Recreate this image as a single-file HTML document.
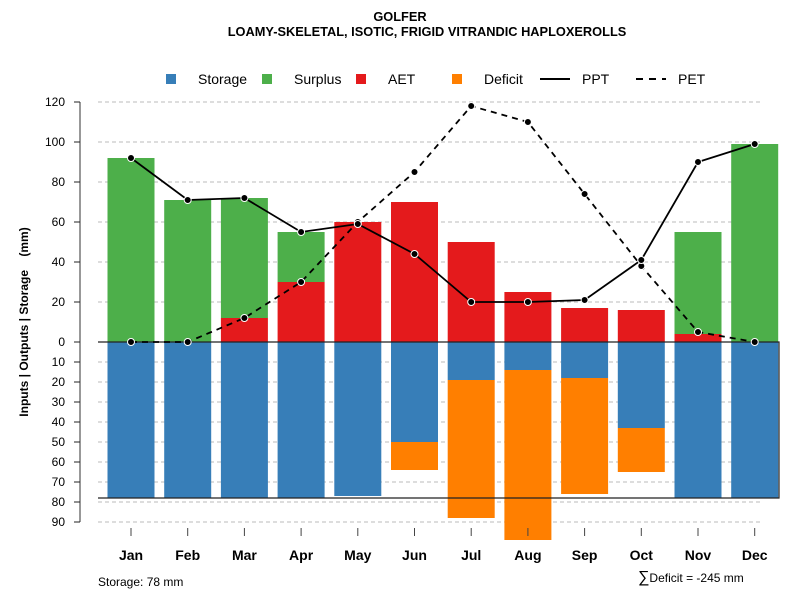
<!DOCTYPE html>
<html><head><meta charset="utf-8"><style>
body{margin:0;background:#fff}svg{display:block;font-family:"Liberation Sans",sans-serif}
</style></head><body>
<svg id="c" width="800" height="600">
<text x="400" y="21" text-anchor="middle" font-size="12.8" font-weight="bold">GOLFER</text>
<text x="427" y="36" text-anchor="middle" font-size="12.8" font-weight="bold">LOAMY-SKELETAL, ISOTIC, FRIGID VITRANDIC HAPLOXEROLLS</text>
<text transform="translate(28,322) rotate(-90)" text-anchor="middle" font-size="12" font-weight="bold">Inputs | Outputs | Storage &#160;&#160;&#160;(mm)</text>
<text x="98" y="586" font-size="12">Storage: 78 mm</text>
<text x="638" y="582" font-size="12"><tspan font-size="16">∑</tspan>Deficit = -245 mm</text>
<g id="legend"></g>
<g id="grid"></g><g id="bars"></g><g id="lines"></g><g id="axes"></g>
</svg>
<script>
const months=["Jan","Feb","Mar","Apr","May","Jun","Jul","Aug","Sep","Oct","Nov","Dec"];
const storage=[78,78,78,78,77,50,19,14,18,43,78,78];
const deficit=[0,0,0,0,0,14,69,85,58,22,0,0];
const aet=[0,0,12,30,60,70,50,25,17,16,4,0];
const surplus=[92,71,60,25,0,0,0,0,0,0,51,99];
const ppt=[92,71,72,55,59,44,20,20,21,41,90,99];
const pet=[0,0,12,30,60,85,118,110,74,38,5,0];
const upTicks=[0,20,40,60,80,100,120];
const downTicks=[10,20,30,40,50,60,70,80,90];
const storageCap=78;
const NS="http://www.w3.org/2000/svg";
const x=i=>131+i*56.7;
const y=v=>342-v*2;
const yd=v=>342+v*2;
function mk(p,t,a){const e=document.createElementNS(NS,t);for(const k in a)e.setAttribute(k,a[k]);document.getElementById(p).appendChild(e);return e;}
upTicks.forEach(v=>{if(v>0){const l=mk('grid','line',{x1:98,x2:760,y1:y(v),y2:y(v),stroke:'#bbb','stroke-dasharray':'4,3'});

}});
downTicks.forEach(v=>{const l=mk('grid','line',{x1:98,x2:760,y1:yd(v),y2:yd(v),stroke:'#bbb','stroke-dasharray':'4,3'});

});
const bw=47;
months.forEach((m,i)=>{
 const bx=x(i)-bw/2;
 let r=mk('bars','rect',{x:bx,y:yd(0),width:bw,height:storage[i]*2,fill:'#377eb8'});
 
 
 if(deficit[i]>0){r=mk('bars','rect',{x:bx,y:yd(storage[i]),width:bw,height:deficit[i]*2,fill:'#ff7f00'});
 
 }
 if(aet[i]>0){r=mk('bars','rect',{x:bx,y:y(aet[i]),width:bw,height:aet[i]*2,fill:'#e41a1c'});
 
 }
 if(surplus[i]>0){r=mk('bars','rect',{x:bx,y:y(aet[i]+surplus[i]),width:bw,height:surplus[i]*2,fill:'#4daf4a'});
 
 }
});
let b=mk('bars','path',{d:`M98,${yd(0)}H779V${yd(storageCap)}H98`,fill:'none',stroke:'#222','stroke-width':1.2});


function series(arr,name,dash){
 const p=mk('lines','polyline',{points:arr.map((v,i)=>x(i)+','+y(v)).join(' '),fill:'none',stroke:'#000','stroke-width':1.8,'stroke-dasharray':dash});
 
 
 arr.forEach((v,i)=>{const c=mk('lines','circle',{cx:x(i),cy:y(v),r:3.5,fill:'#000',stroke:'#fff','stroke-width':1});
 
 });
}
series(pet,'pet','6,5');series(ppt,'ppt','none');
let a=mk('axes','line',{x1:80,x2:80,y1:102,y2:522,stroke:'#777','stroke-width':1.5});


function tick(v,yy){mk('axes','line',{x1:74,x2:80,y1:yy,y2:yy,stroke:'#222'});
 const t=mk('axes','text',{x:65,y:yy+4,'text-anchor':'end','font-size':12});t.textContent=v;
 
 }
upTicks.forEach(v=>tick(v,y(v)));downTicks.forEach(v=>tick(v,yd(v)));
months.forEach((m,i)=>{mk('axes','line',{x1:x(i),x2:x(i),y1:528,y2:536,stroke:'#444'});
 const t=mk('axes','text',{x:x(i),y:560,'text-anchor':'middle','font-size':14,'font-weight':'bold'});t.textContent=m;
 
 });
const leg=[["Storage",'#377eb8','sq',166],["Surplus",'#4daf4a','sq',262],["AET",'#e41a1c','sq',356],["Deficit",'#ff7f00','sq',452],["PPT",'#000','solid',540],["PET",'#000','dash',636]];
leg.forEach(l=>{
 if(l[2]=='sq')mk('legend','rect',{x:l[3],y:74,width:10,height:10,fill:l[1]});
 else mk('legend','line',{x1:l[3],x2:l[3]+30,y1:79,y2:79,stroke:'#000','stroke-width':2,'stroke-dasharray':l[2]=='dash'?'7,6':'none'});
 const t=mk('legend','text',{x:l[2]=='sq'?l[3]+32:l[3]+42,y:84,'font-size':14});t.textContent=l[0];
 
 
});
</script>
</body></html>
